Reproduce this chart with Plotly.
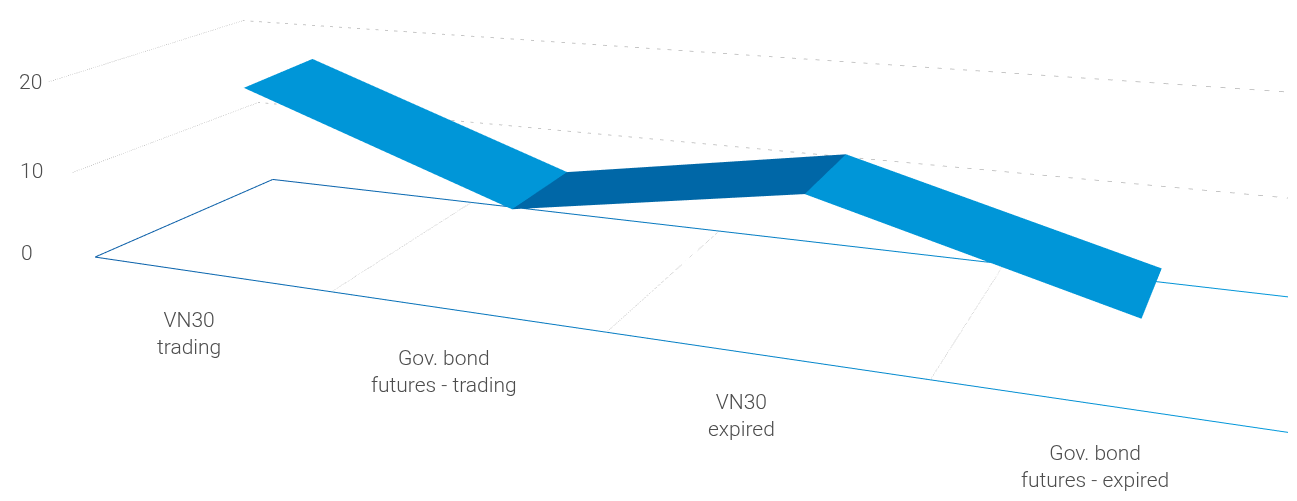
import numpy as np
import plotly.graph_objects as go

# ---------------- data ----------------
categories = ["VN30<br>trading", "Gov. bond<br>futures - trading",
              "VN30<br>expired", "Gov. bond<br>futures - expired"]
values = [17.5, 7.0, 12.0, 3.5]
y_ticks = [0, 10, 20]
grid_levels = [10, 20]

# ---------------- geometry / style ----------------
X_MIN, X_MAX = -0.5, len(categories) - 0.5
X_BACK_LEFT = -0.41     # back-left corner of the frame (slight skew)
DEPTH = 0.92
RIB_Y0, RIB_Y1 = 0.36, 0.76
Z_MAX = 22
UNIT_Z = 0.03          # world units per value unit (category width = 1)
K = 0.25               # world -> normalized scene scale
TICK_LEAN = 0.0095     # keeps value labels left-aligned on screen

LIGHT = "#0096d8"
DARK = "#0067a7"
GRID = "#b4b4b4"
TXT = "#4d4d4d"
FONT = "Roboto"

W, H = 1280, 1196
F_PX = 1.2071 * H      # focal length in px (plotly fovy = 45 deg)

# camera (world units)
cam_pos = np.array([3.344, -3.652, 1.773])
cam_fwd = np.array([-0.358, 0.7486, -0.558])
cam_up = np.array([-0.1983, 0.5231, 0.829])
eps = 8.0 / F_PX       # small tilt to compensate page offset
cam_fwd2 = cam_fwd - eps * cam_up
cam_up2 = cam_up + eps * cam_fwd
cam_fwd2 /= np.linalg.norm(cam_fwd2)
cam_up2 /= np.linalg.norm(cam_up2)

world_center = np.array([(X_MIN + X_MAX) / 2, DEPTH / 2, Z_MAX * UNIT_Z / 2])
eye = K * (cam_pos - world_center)
look = K * (cam_pos + 4 * cam_fwd2 - world_center)

fig = go.Figure()

# ---------------- ribbon ----------------
xs, ys, zs = [], [], []
for i, v in enumerate(values):
    xs += [i, i]
    ys += [RIB_Y0, RIB_Y1]
    zs += [v, v]
I, J, Kf, fc = [], [], [], []
for i in range(len(values) - 1):
    a, b, c, d = 2 * i, 2 * i + 1, 2 * i + 2, 2 * i + 3
    col = LIGHT if values[i + 1] <= values[i] else DARK
    I += [a, a]
    J += [b, d]
    Kf += [d, c]
    fc += [col, col]
fig.add_trace(go.Mesh3d(
    x=xs, y=ys, z=zs, i=I, j=J, k=Kf, facecolor=fc, flatshading=True,
    lighting=dict(ambient=1, diffuse=0, specular=0, fresnel=0, roughness=1),
    hoverinfo="skip", showscale=False))

# ---------------- floor outline (gradient blue) ----------------
scale = [[0, "#0b5fa8"], [1, "#0099dc"]]
def blue_line(px, py, pz):
    fig.add_trace(go.Scatter3d(
        x=px, y=py, z=pz, mode="lines", hoverinfo="skip", showlegend=False,
        line=dict(color=px, colorscale=scale, cmin=X_MIN, cmax=X_MAX, width=2)))

blue_line([X_MIN, X_MAX], [0, 0], [0, 0])
blue_line([X_MIN, X_BACK_LEFT], [0, DEPTH], [0, 0])
blue_line([X_BACK_LEFT, X_MAX], [DEPTH, DEPTH], [0, 0])

# ---------------- dotted grid ----------------
def grid_line(px, py, pz):
    fig.add_trace(go.Scatter3d(
        x=px, y=py, z=pz, mode="lines", hoverinfo="skip", showlegend=False,
        line=dict(color=GRID, width=1.5, dash="dot")))

for g in grid_levels:
    grid_line([X_MIN, X_BACK_LEFT, X_MAX], [0, DEPTH, DEPTH], [g, g, g])
for i in range(len(categories) - 1):
    grid_line([i + 0.5, i + 0.5], [0, DEPTH], [0, 0])

# ---------------- labels ----------------
lab_font = dict(family=FONT, size=21, color=TXT, weight=300)
ann = []
for i, c in enumerate(categories):
    ann.append(dict(x=i, y=0, z=0, text=c, showarrow=False,
                    xshift=-20, yshift=-60, font=lab_font))
for t in y_ticks:
    ann.append(dict(x=X_MIN + TICK_LEAN * t, y=0, z=t, text=str(t),
                    showarrow=False, xanchor="left", xshift=-76, yshift=4,
                    font=lab_font))

ax = dict(visible=False, showgrid=False, showbackground=False, showspikes=False)
fig.update_layout(
    width=W, height=H, margin=dict(l=0, r=0, t=0, b=0),
    paper_bgcolor="white", plot_bgcolor="white", showlegend=False,
    scene=dict(
        xaxis=dict(ax, range=[X_MIN, X_MAX]),
        yaxis=dict(ax, range=[0, DEPTH]),
        zaxis=dict(ax, range=[0, Z_MAX]),
        aspectmode="manual",
        aspectratio=dict(x=(X_MAX - X_MIN) * K, y=DEPTH * K, z=Z_MAX * UNIT_Z * K),
        camera=dict(eye=dict(x=eye[0], y=eye[1], z=eye[2]),
                    center=dict(x=look[0], y=look[1], z=look[2]),
                    up=dict(x=cam_up2[0], y=cam_up2[1], z=cam_up2[2]),
                    projection=dict(type="perspective")),
        dragmode="orbit",
        annotations=ann,
    ),
)

fig.write_html("out.html", config={"displayModeBar": False})
